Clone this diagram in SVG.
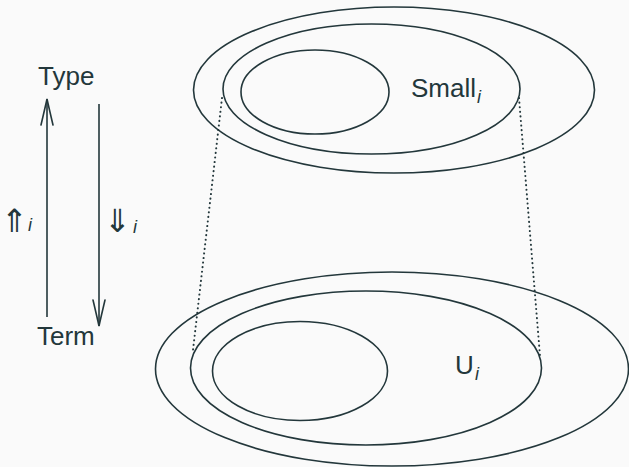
<svg xmlns="http://www.w3.org/2000/svg" width="629" height="467" viewBox="0 0 629 467">
<style>
  .bg { fill: #fafafa; }
  .ell { fill: none; stroke: #23373b; stroke-width: 1.6; }
  .ln { fill: none; stroke: #23373b; stroke-width: 1.6; }
  .head { fill: none; stroke: #23373b; stroke-width: 1.6; stroke-linecap: round; }
  .dot { fill: none; stroke: #23373b; stroke-width: 2; stroke-dasharray: 0.1 4.5; stroke-linecap: round; }
  .t { font-family: "Liberation Sans", Arial, sans-serif; font-size: 26px; fill: #23373b; }
  .sub { font-family: "Liberation Sans", Arial, sans-serif; font-style: italic; font-size: 18px; fill: #23373b; }
  .ar { font-family: "DejaVu Sans", sans-serif; font-weight: 200; font-size: 32px; fill: #23373b; }
</style>
<rect class="bg" x="0" y="0" width="629" height="467"/>

<g id="connectors">
  <line class="ln" x1="47" y1="317" x2="47" y2="99"/>
  <path class="head" d="M41,125 Q45,108 47,99 Q49,108 53,125"/>
  <line class="ln" x1="99" y1="104" x2="99" y2="326"/>
  <path class="head" d="M93,300 Q97,317 99,326 Q101,317 105,300"/>
  <line class="dot" x1="222" y1="98" x2="193" y2="350"/>
  <line class="dot" x1="519" y1="98" x2="540" y2="356"/>
</g>

<g id="type">
  <text class="t" x="38" y="85">Type</text>
</g>
<g id="term">
  <text class="t" x="37" y="345">Term</text>
</g>
<g id="up-label">
  <text class="ar" x="1" y="232">⇑</text><text class="sub" x="28" y="231">i</text>
</g>
<g id="down-label">
  <text class="ar" x="104" y="232">⇓</text><text class="sub" x="133" y="233">i</text>
</g>

<g id="small">
  <ellipse class="ell" cx="394" cy="90" rx="200.5" ry="83"/>
  <ellipse class="ell" cx="371.5" cy="89" rx="148.5" ry="65"/>
  <ellipse class="ell" cx="315" cy="92" rx="74" ry="42"/>
  <text class="t" x="411" y="97">Small</text><text class="sub" x="477" y="103">i</text>
</g>

<g id="universe">
  <ellipse class="ell" cx="392" cy="369" rx="236.5" ry="97"/>
  <ellipse class="ell" cx="366" cy="368" rx="175.5" ry="77"/>
  <ellipse class="ell" cx="300" cy="371" rx="87.5" ry="49.5"/>
  <text class="t" x="455" y="374">U</text><text class="sub" x="475" y="380">i</text>
</g>
</svg>
